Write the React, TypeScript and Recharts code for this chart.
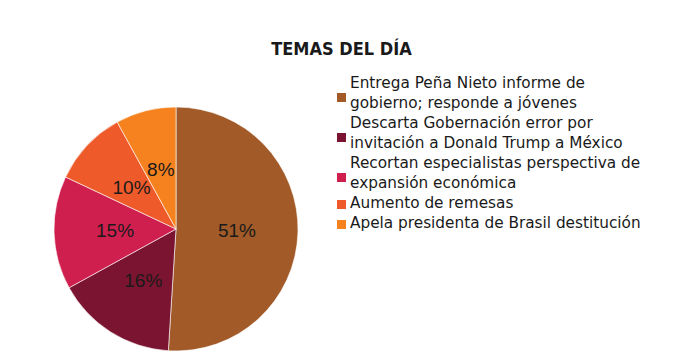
import React from 'react';
import { PieChart, Pie, Cell, Legend } from 'recharts';

// topics and their share of the day's coverage
const topics = [
  'Entrega Peña Nieto informe de gobierno; responde a jóvenes',
  'Descarta Gobernación error por invitación a Donald Trump a México',
  'Recortan especialistas perspectiva de expansión económica',
  'Aumento de remesas',
  'Apela presidenta de Brasil destitución',
];
const shares = [51, 16, 15, 10, 8];
const sliceColors = ['#A15A28', '#7B1430', '#CF1F4F', '#EF5A2B', '#F5821F'];
// how the legend wraps each topic
const legendLines = [
  ['Entrega Peña Nieto informe de', 'gobierno; responde a jóvenes'],
  ['Descarta Gobernación error por', 'invitación a Donald Trump a México'],
  ['Recortan especialistas perspectiva de', 'expansión económica'],
  ['Aumento de remesas'],
  ['Apela presidenta de Brasil destitución'],
];

const data = topics.map((name, i) => ({ name, value: shares[i] }));

const RADIAN = Math.PI / 180;

const renderLabel = (props: any) => {
  const { cx, cy, midAngle, outerRadius, value } = props;
  const r = outerRadius * 0.5;
  const x = cx + r * Math.cos(-midAngle * RADIAN);
  const y = cy + r * Math.sin(-midAngle * RADIAN);
  return (
    <text
      x={x}
      y={y}
      fill="#1a1a1a"
      fontFamily="'Liberation Sans', Arial, sans-serif"
      fontSize={19}
      textAnchor="middle"
      dominantBaseline="central"
    >
      {`${value}%`}
    </text>
  );
};

const renderLegend = () => (
  <div style={{ fontFamily: "'DejaVu Sans', sans-serif", fontSize: 15.3, color: '#1a1a1a' }}>
    {legendLines.map((lines, i) => (
      <div key={i} style={{ display: 'flex', alignItems: 'center', lineHeight: '20px' }}>
        <span
          style={{
            width: 9,
            height: 9,
            background: sliceColors[i],
            marginRight: 4,
            marginTop: lines.length > 1 ? 8 : 2,
            flexShrink: 0,
          }}
        />
        <div style={{ whiteSpace: 'nowrap' }}>
          {lines.map((l) => (
            <div key={l}>{l}</div>
          ))}
        </div>
      </div>
    ))}
  </div>
);

export default function App() {
  return (
    <div style={{ position: 'fixed', left: 0, top: 0, width: 679, height: 357, background: '#fff' }}>
      <div
        style={{
          position: 'absolute',
          left: 0,
          width: 679,
          top: 38,
          textAlign: 'center',
          paddingLeft: 2,
          fontFamily: "'DejaVu Sans Condensed', 'DejaVu Sans', sans-serif",
          fontWeight: 'bold',
          fontSize: 18,
          color: '#1a1a1a',
        }}
      >
        TEMAS DEL DÍA
      </div>
      <PieChart width={679} height={357} margin={{ top: 0, right: 0, bottom: 0, left: 0 }}>
        <Pie
          data={data}
          dataKey="value"
          nameKey="name"
          cx={176}
          cy={229}
          outerRadius={122}
          startAngle={90}
          endAngle={-270}
          stroke="#ffffff"
          strokeWidth={0.6}
          labelLine={false}
          label={renderLabel}
          isAnimationActive={false}
        >
          {data.map((d, i) => (
            <Cell key={d.name} fill={sliceColors[i]} />
          ))}
        </Pie>
        <Legend
          layout="vertical"
          content={renderLegend}
          wrapperStyle={{ position: 'absolute', left: 337, top: 73, width: 340 }}
        />
      </PieChart>
    </div>
  );
}
